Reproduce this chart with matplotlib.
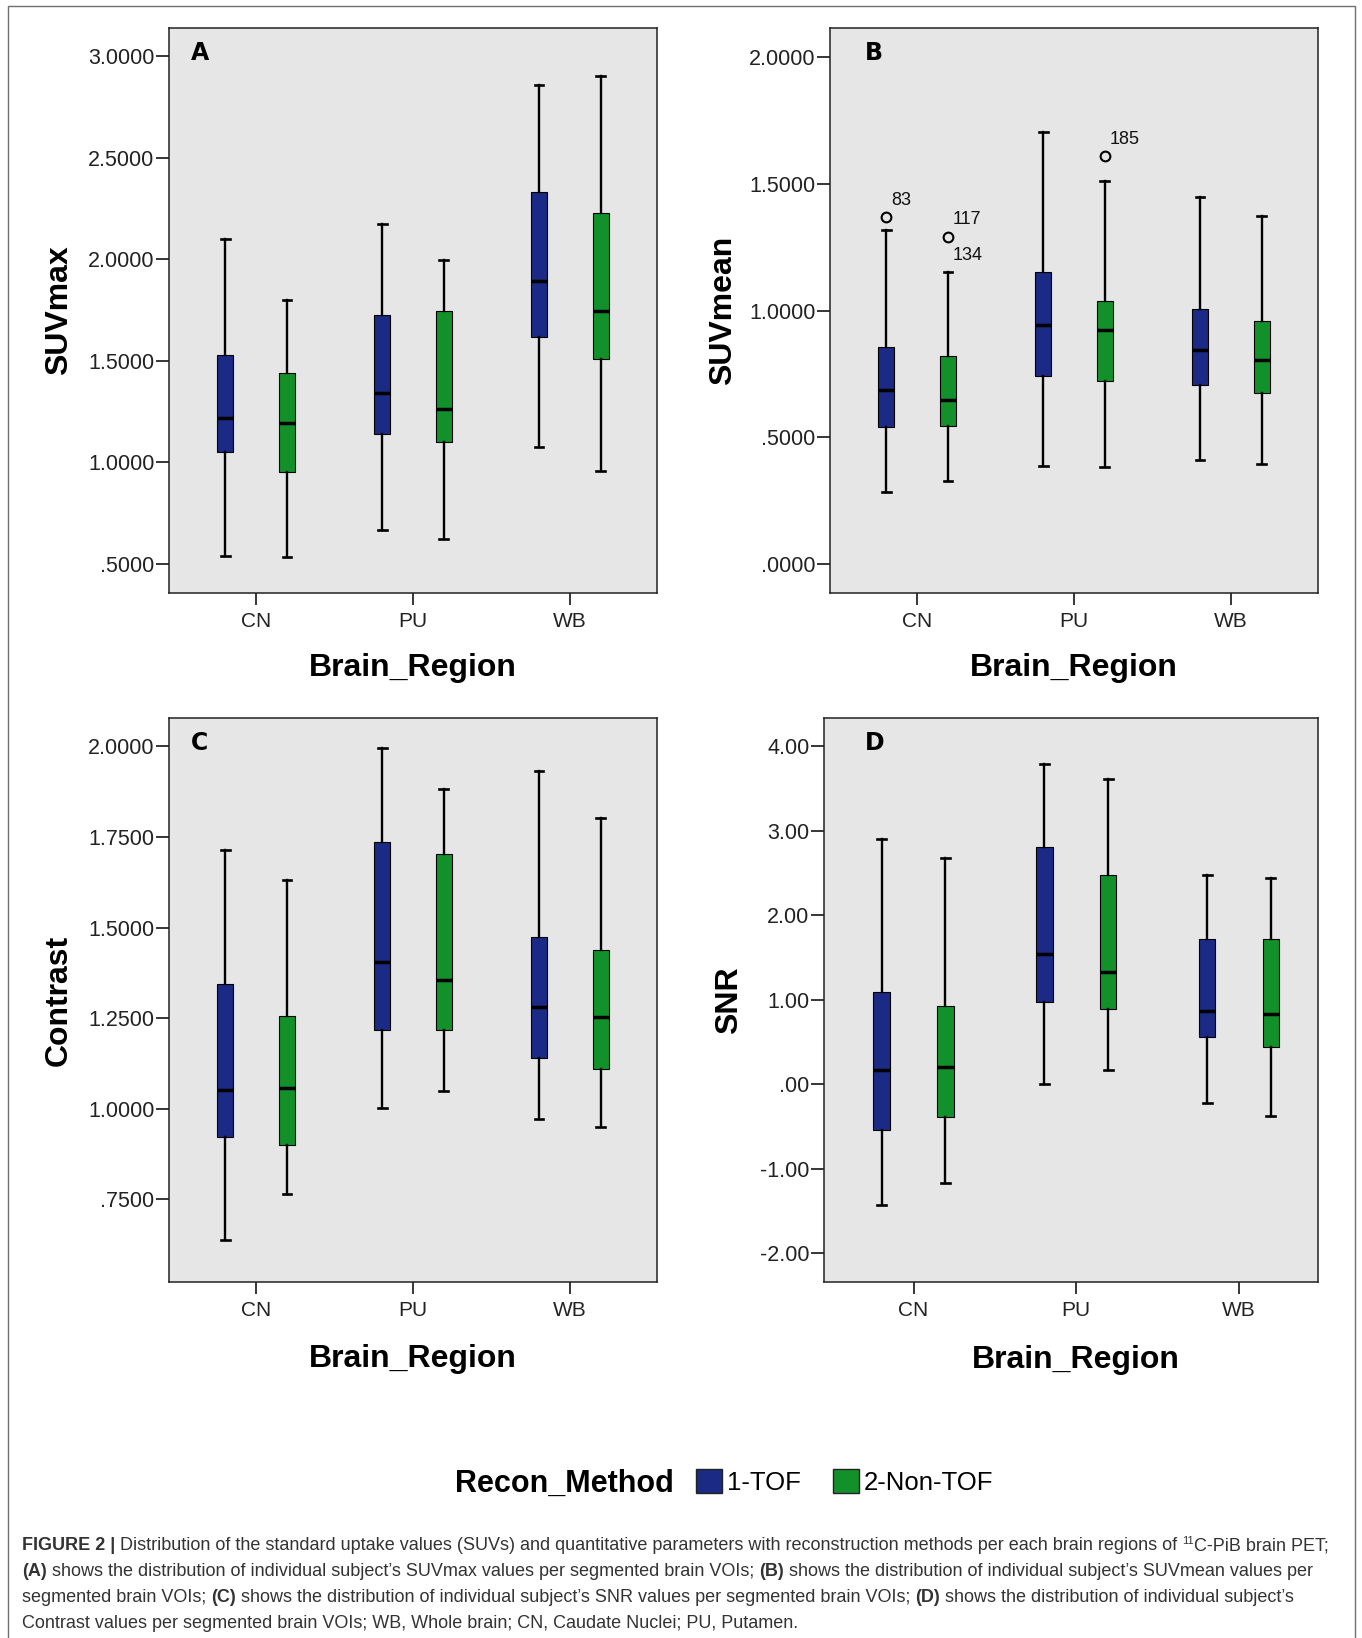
import matplotlib
matplotlib.use("Agg")
import matplotlib.pyplot as plt
from matplotlib.patches import Patch
from matplotlib.lines import Line2D
from matplotlib.ticker import FuncFormatter

plt.rcParams['font.family'] = ['Liberation Sans', 'DejaVu Sans']

W, H = 1362, 1638

regions = ["CN", "PU", "WB"]
methods = ["1-TOF", "2-Non-TOF"]
colors = ["#1b2a84", "#12912a"]

# per region (CN, PU, WB): (whisker low, Q1, median, Q3, whisker high)
suvmax_tof = [(0.537, 1.051, 1.218, 1.528, 2.097), (0.667, 1.141, 1.339, 1.726, 2.174), (1.078, 1.616, 1.895, 2.330, 2.857)]
suvmax_nontof = [(0.533, 0.955, 1.192, 1.442, 1.798), (0.621, 1.098, 1.264, 1.743, 1.996), (0.957, 1.511, 1.743, 2.225, 2.903)]
suvmean_tof = [(0.287, 0.542, 0.686, 0.855, 1.316), (0.389, 0.744, 0.945, 1.152, 1.703), (0.413, 0.705, 0.844, 1.008, 1.448)]
suvmean_nontof = [(0.329, 0.547, 0.647, 0.820, 1.154), (0.385, 0.723, 0.922, 1.038, 1.511), (0.394, 0.675, 0.807, 0.959, 1.372)]
contrast_tof = [(0.639, 0.921, 1.051, 1.345, 1.714), (1.001, 1.218, 1.404, 1.737, 1.995), (0.972, 1.141, 1.282, 1.475, 1.933)]
contrast_nontof = [(0.764, 0.900, 1.056, 1.256, 1.632), (1.048, 1.218, 1.354, 1.702, 1.883), (0.951, 1.111, 1.252, 1.437, 1.803)]
snr_tof = [(-1.431, -0.538, 0.174, 1.087, 2.897), (0.0, 0.979, 1.544, 2.810, 3.790), (-0.226, 0.564, 0.872, 1.723, 2.472)]
snr_nontof = [(-1.164, -0.390, 0.200, 0.923, 2.677), (0.174, 0.887, 1.328, 2.477, 3.610), (-0.374, 0.436, 0.836, 1.723, 2.436)]

# outliers in panel B: (method index, region index, value, case numbers)
suvmean_outliers = [(0, 0, 1.369, ["83"]), (1, 0, 1.289, ["117", "134"]), (1, 1, 1.610, ["185"])]

suvmax_ticks = [0.5, 1.0, 1.5, 2.0, 2.5, 3.0]
suvmean_ticks = [0.0, 0.5, 1.0, 1.5, 2.0]
contrast_ticks = [0.75, 1.0, 1.25, 1.5, 1.75, 2.0]
snr_ticks = [-2, -1, 0, 1, 2, 3, 4]

fig = plt.figure(figsize=(W / 100, H / 100), dpi=100)


def px_axes(left, top, right, bottom):
    return fig.add_axes([left / W, 1 - bottom / H, (right - left) / W, (bottom - top) / H])


def spss_fmt(decimals):
    def f(v, pos):
        s = f"{v:.{decimals}f}"
        if s.startswith("-0."):
            s = "-" + s[2:]
        elif s.startswith("0."):
            s = s[1:]
        if s.startswith("-.") and float(s) == 0:
            s = s[1:]
        return s
    return FuncFormatter(f)


def draw_panel(ax, letter, letter_x, ylabel, ylabel_x, tof, nontof, ylim, ticks, decimals, xlim,
               xlabel_x=0.5, xlabel_y=-0.133, outliers=()):
    ax.set_facecolor("#e6e6e6")
    for m, summary in enumerate([tof, nontof]):
        stats = []
        for r, (lo, q1, med, q3, hi) in enumerate(summary):
            fl = [o[2] for o in outliers if o[0] == m and o[1] == r]
            stats.append(dict(whislo=lo, q1=q1, med=med, q3=q3, whishi=hi, fliers=fl))
        pos = [r + (m - 0.5) * 0.392 for r in range(len(regions))]
        ax.bxp(stats, positions=pos, widths=0.1, patch_artist=True, capwidths=0.055,
               manage_ticks=False,
               boxprops=dict(facecolor=colors[m], edgecolor="black", linewidth=0.8),
               medianprops=dict(color="black", linewidth=2.5, solid_capstyle="butt"),
               whiskerprops=dict(color="black", linewidth=1.7),
               capprops=dict(color="black", linewidth=1.9),
               flierprops=dict(marker="o", markerfacecolor="none", markeredgecolor="black",
                               markersize=7, markeredgewidth=1.5))
        for o in outliers:
            if o[0] != m:
                continue
            x = pos[o[1]]
            if len(o[3]) == 1:
                ax.annotate(o[3][0], (x, o[2]), xytext=(3.8, 12), textcoords="offset points",
                            ha="left", va="center", fontsize=13, color="#111")
            else:
                ax.annotate(o[3][0], (x, o[2]), xytext=(3.8, 13), textcoords="offset points",
                            ha="left", va="center", fontsize=13, color="#111")
                ax.annotate(o[3][1], (x, o[2]), xytext=(3.8, -13), textcoords="offset points",
                            ha="left", va="center", fontsize=13, color="#111")

    ax.set_xlim(*xlim)
    ax.set_ylim(*ylim)
    ax.set_xticks(range(len(regions)))
    ax.set_xticklabels(regions)
    ax.set_yticks(ticks)
    ax.yaxis.set_major_formatter(spss_fmt(decimals))
    ax.tick_params(axis="y", direction="out", length=9.5, width=1.1, pad=1, labelsize=15.5,
                   labelcolor="#222")
    ax.tick_params(axis="x", direction="out", length=8.6, width=1.1, pad=5, labelsize=15,
                   labelcolor="#222")
    for sp in ax.spines.values():
        sp.set_linewidth(1.1)
        sp.set_color("#222")

    ax.set_ylabel(ylabel, fontsize=23, weight="bold")
    ax.yaxis.set_label_coords(ylabel_x, 0.5)
    ax.yaxis.label.set_va("center")
    ax.set_xlabel("Brain_Region", fontsize=23, weight="bold")
    ax.xaxis.set_label_coords(xlabel_x, xlabel_y)
    ax.xaxis.label.set_va("center")

    ax.text(letter_x, 0.955, letter, transform=ax.transAxes, ha="left", va="center",
            fontsize=17, weight="bold", family="DejaVu Sans")


ax_a = px_axes(169, 28, 657, 593)
ax_b = px_axes(830, 28, 1318, 593)
ax_c = px_axes(169, 718, 657, 1282)
ax_d = px_axes(824, 718, 1318, 1282)

draw_panel(ax_a, "A", 0.045, "SUVmax", -0.226, suvmax_tof, suvmax_nontof,
           (0.357, 3.138), suvmax_ticks, 4, (-0.555, 2.555), xlabel_y=-0.133)
draw_panel(ax_b, "B", 0.071, "SUVmean", -0.22, suvmean_tof, suvmean_nontof,
           (-0.113, 2.114), suvmean_ticks, 4, (-0.555, 2.555), xlabel_y=-0.133,
           outliers=suvmean_outliers)
draw_panel(ax_c, "C", 0.045, "Contrast", -0.226, contrast_tof, contrast_nontof,
           (0.522, 2.078), contrast_ticks, 4, (-0.555, 2.555), xlabel_y=-0.137)
draw_panel(ax_d, "D", 0.083, "SNR", -0.192, snr_tof, snr_nontof,
           (-2.338, 4.333), snr_ticks, 2, (-0.55, 2.485), xlabel_x=0.51, xlabel_y=-0.138)

# legend
fig.text(674 / W, 1 - 1492 / H, "Recon_Method", ha="right", va="baseline",
         fontsize=22, weight="bold")
handles = [Patch(facecolor=c, edgecolor="#222", linewidth=1.0, label=m) for c, m in zip(colors, methods)]
fig.legend(handles=handles, loc="center left", bbox_to_anchor=(696 / W, 1 - 1482 / H),
           ncol=2, frameon=False, fontsize=18.5, handlelength=1.0, handleheight=1.08,
           handletextpad=0.2, columnspacing=1.25, borderpad=0, borderaxespad=0)

# frame around the figure
fig.add_artist(Line2D([7.5 / W, 7.5 / W, 1355 / W, 1355 / W], [0, 1 - 6 / H, 1 - 6 / H, 0],
                      color="#707070", linewidth=1.0, transform=fig.transFigure))

# caption
cap_color = "#333333"
cap_size = 12.95
caption_lines = [
    [("FIGURE 2 | ", "b"),
     ("Distribution of the standard uptake values (SUVs) and quantitative parameters with reconstruction methods per each brain regions of ", "r"),
     ("11", "s"), ("C-PiB brain PET;", "r")],
    [("(A)", "b"), (" shows the distribution of individual subject\u2019s SUVmax values per segmented brain VOIs; ", "r"),
     ("(B)", "b"), (" shows the distribution of individual subject\u2019s SUVmean values per", "r")],
    [("segmented brain VOIs; ", "r"), ("(C)", "b"),
     (" shows the distribution of individual subject\u2019s SNR values per segmented brain VOIs; ", "r"),
     ("(D)", "b"), (" shows the distribution of individual subject\u2019s", "r")],
    [("Contrast values per segmented brain VOIs; WB, Whole brain; CN, Caudate Nuclei; PU, Putamen.", "r")],
]
baselines = [1550.5, 1576.5, 1602.5, 1628.5]

renderer = fig.canvas.get_renderer()
for parts, base in zip(caption_lines, baselines):
    x = 22
    for text, kind in parts:
        weight = "bold" if kind == "b" else "normal"
        fs = cap_size * 0.62 if kind == "s" else cap_size
        dy = 6 if kind == "s" else 0
        fig.text(x / W, 1 - (base - dy) / H, text, fontsize=fs, weight=weight, color=cap_color,
                 ha="left", va="baseline")
        probe = fig.text(0, 0, text + "|", fontsize=fs, weight=weight)
        bar = fig.text(0, 0, "|", fontsize=fs, weight=weight)
        x += probe.get_window_extent(renderer).width - bar.get_window_extent(renderer).width
        probe.remove()
        bar.remove()

fig.savefig("out.png", dpi=100)
